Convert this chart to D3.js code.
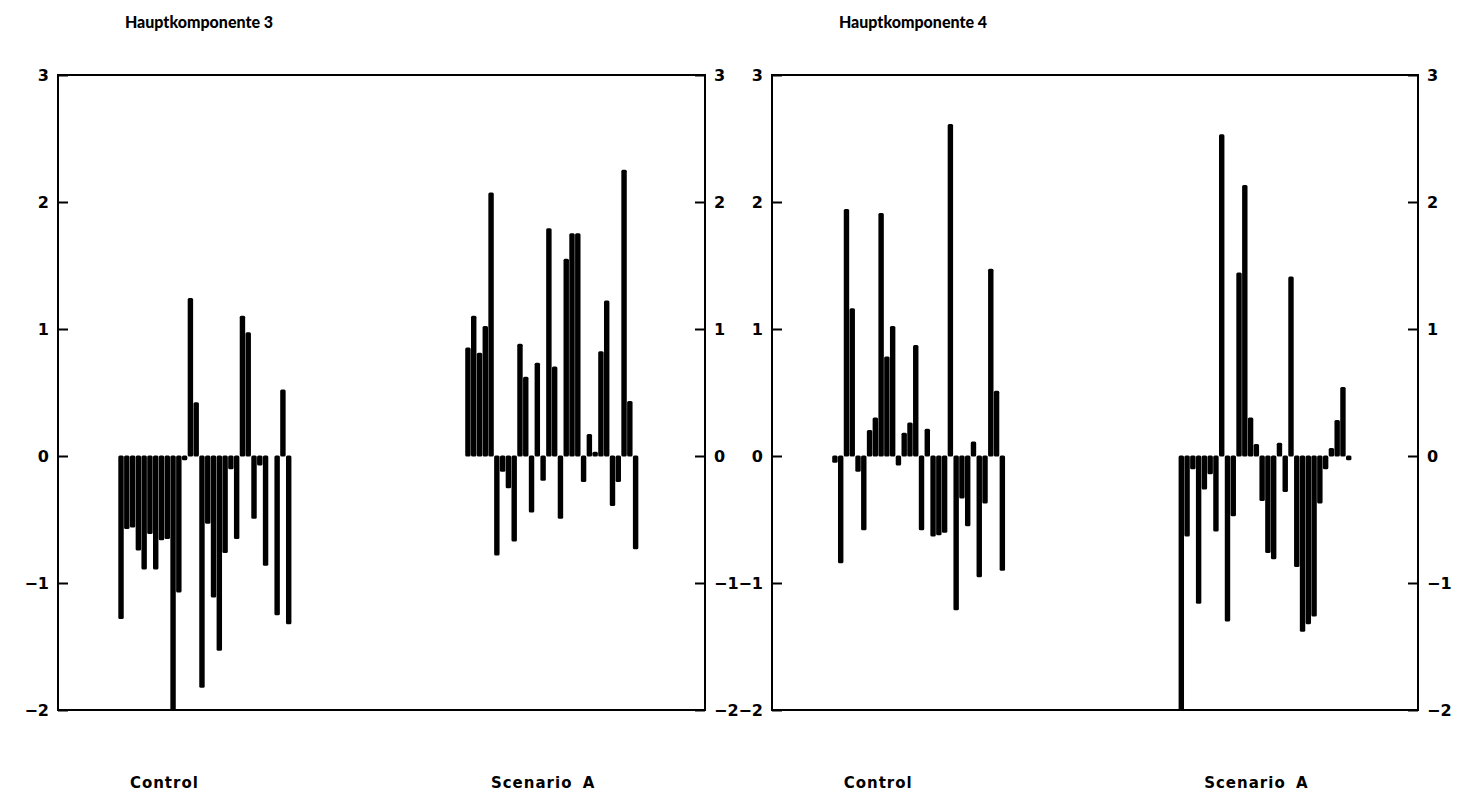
<!DOCTYPE html>
<html>
<head>
<meta charset="utf-8">
<script src="https://cdn.jsdelivr.net/npm/d3@7"></script>
<style>
  body { margin: 0; background: #fff; }
  svg text { font-family: "DejaVu Sans", sans-serif; font-weight: 700; fill: #000; }
</style>
</head>
<body>
<div id="chart"></div>
<script>
const panelTitles = ["Hauptkomponente 3", "Hauptkomponente 4"];
const groupLabels = ["Control", "Scenario A"];
const yTicks = [-2, -1, 0, 1, 2, 3];

// scores per sample
const pc3Control = [-1.28, -0.57, -0.56, -0.74, -0.89, -0.61, -0.89, -0.66, -0.65, -2.0,
  -1.07, -0.03, 1.24, 0.42, -1.82, -0.53, -1.11, -1.53, -0.76, -0.10,
  -0.65, 1.10, 0.97, -0.49, -0.07, -0.86, 0.0, -1.25, 0.52, -1.32];
const pc3Scenario = [0.85, 1.10, 0.81, 1.02, 2.07, -0.78, -0.12, -0.25, -0.67, 0.88,
  0.62, -0.44, 0.73, -0.19, 1.79, 0.70, -0.49, 1.55, 1.75, 1.75,
  -0.20, 0.17, 0.03, 0.82, 1.22, -0.39, -0.20, 2.25, 0.43, -0.73];
const pc4Control = [-0.05, -0.84, 1.94, 1.16, -0.12, -0.58, 0.20, 0.30, 1.91, 0.78,
  1.02, -0.07, 0.18, 0.26, 0.87, -0.58, 0.21, -0.63, -0.62, -0.60,
  2.61, -1.21, -0.33, -0.55, 0.11, -0.95, -0.37, 1.47, 0.51, -0.90];
const pc4Scenario = [-2.0, -0.63, -0.10, -1.16, -0.26, -0.14, -0.59, 2.53, -1.30, -0.47,
  1.44, 2.13, 0.30, 0.09, -0.35, -0.76, -0.81, 0.10, -0.28, 1.41,
  -0.87, -1.38, -1.32, -1.26, -0.37, -0.10, 0.06, 0.28, 0.54, -0.03];

const width = 1458, height = 796;
const frameTop = 75, frameBottom = 710;
const panels = [
  { title: panelTitles[0], left: 58, right: 705, control: pc3Control, scenario: pc3Scenario },
  { title: panelTitles[1], left: 772, right: 1418, control: pc4Control, scenario: pc4Scenario }
];
const scenarioOffset = 60;   // sample index where the second group starts
const labelPos = [7.5, 73];  // group label centres in sample-index units

const svg = d3.select("#chart")
  .append("svg")
  .attr("width", width)
  .attr("height", height);

const y = d3.scaleLinear()
  .domain([-2, 3])
  .range([frameBottom, frameTop]);

const fmt = d => d < 0 ? "\u2212" + Math.abs(d) : d;

panels.forEach((p, k) => {
  const x = d3.scaleLinear()
    .domain([-10.9, 101])
    .range([p.left, p.right]);
  const step = x(1) - x(0);
  const barW = step - 0.35;

  const g = svg.append("g").attr("class", "panel-" + k);

  g.append("clipPath")
    .attr("id", "clip-" + k)
    .append("rect")
    .attr("x", p.left)
    .attr("y", frameTop)
    .attr("width", p.right - p.left)
    .attr("height", frameBottom - frameTop);

  const bars = p.control.map((v, i) => ({ i: i, v: v }))
    .concat(p.scenario.map((v, i) => ({ i: i + scenarioOffset, v: v })))
    .filter(d => d.v !== 0);

  g.append("g")
    .attr("clip-path", `url(#clip-${k})`)
    .selectAll("rect")
    .data(bars)
    .join("rect")
    .attr("x", d => x(d.i) - barW / 2)
    .attr("y", d => Math.min(y(d.v), y(0)) - 0.5)
    .attr("width", barW)
    .attr("height", d => Math.max(Math.abs(y(d.v) - y(0)), 2.5) + 1)
    .attr("rx", 1.5)
    .attr("fill", "#000");

  // frame
  g.append("rect")
    .attr("x", p.left)
    .attr("y", frameTop)
    .attr("width", p.right - p.left)
    .attr("height", frameBottom - frameTop)
    .attr("fill", "none")
    .attr("stroke", "#000")
    .attr("stroke-width", 2);

  // inward ticks on both sides, labels outside
  const leftAxis = d3.axisLeft(y).tickValues(yTicks).tickSize(-10).tickPadding(9).tickFormat(fmt);
  const rightAxis = d3.axisRight(y).tickValues(yTicks).tickSize(-10).tickPadding(9).tickFormat(fmt);

  g.append("g")
    .attr("transform", `translate(${p.left},0)`)
    .call(leftAxis)
    .call(a => a.select(".domain").remove());
  g.append("g")
    .attr("transform", `translate(${p.right},0)`)
    .call(rightAxis)
    .call(a => a.select(".domain").remove());

  g.selectAll(".tick line").attr("stroke", "#000").attr("stroke-width", 2);
  g.selectAll(".tick text")
    .attr("font-size", 16)
    .style("font-family", "'DejaVu Sans', sans-serif")
    .style("font-weight", 700);

  // title
  g.append("text")
    .attr("x", p.left + 141)
    .attr("y", 28)
    .attr("text-anchor", "middle")
    .attr("font-size", 16)
    .style("font-family", "Lato, sans-serif")
    .style("font-weight", 900)
    .text(p.title);

  // group labels
  g.selectAll(".group-label")
    .data(groupLabels)
    .join("text")
    .attr("class", "group-label")
    .attr("x", (d, i) => x(labelPos[i]))
    .attr("y", 788)
    .attr("text-anchor", "middle")
    .attr("font-size", 15)
    .attr("letter-spacing", 1)
    .attr("word-spacing", 4)
    .text(d => d);
});
</script>
</body>
</html>
